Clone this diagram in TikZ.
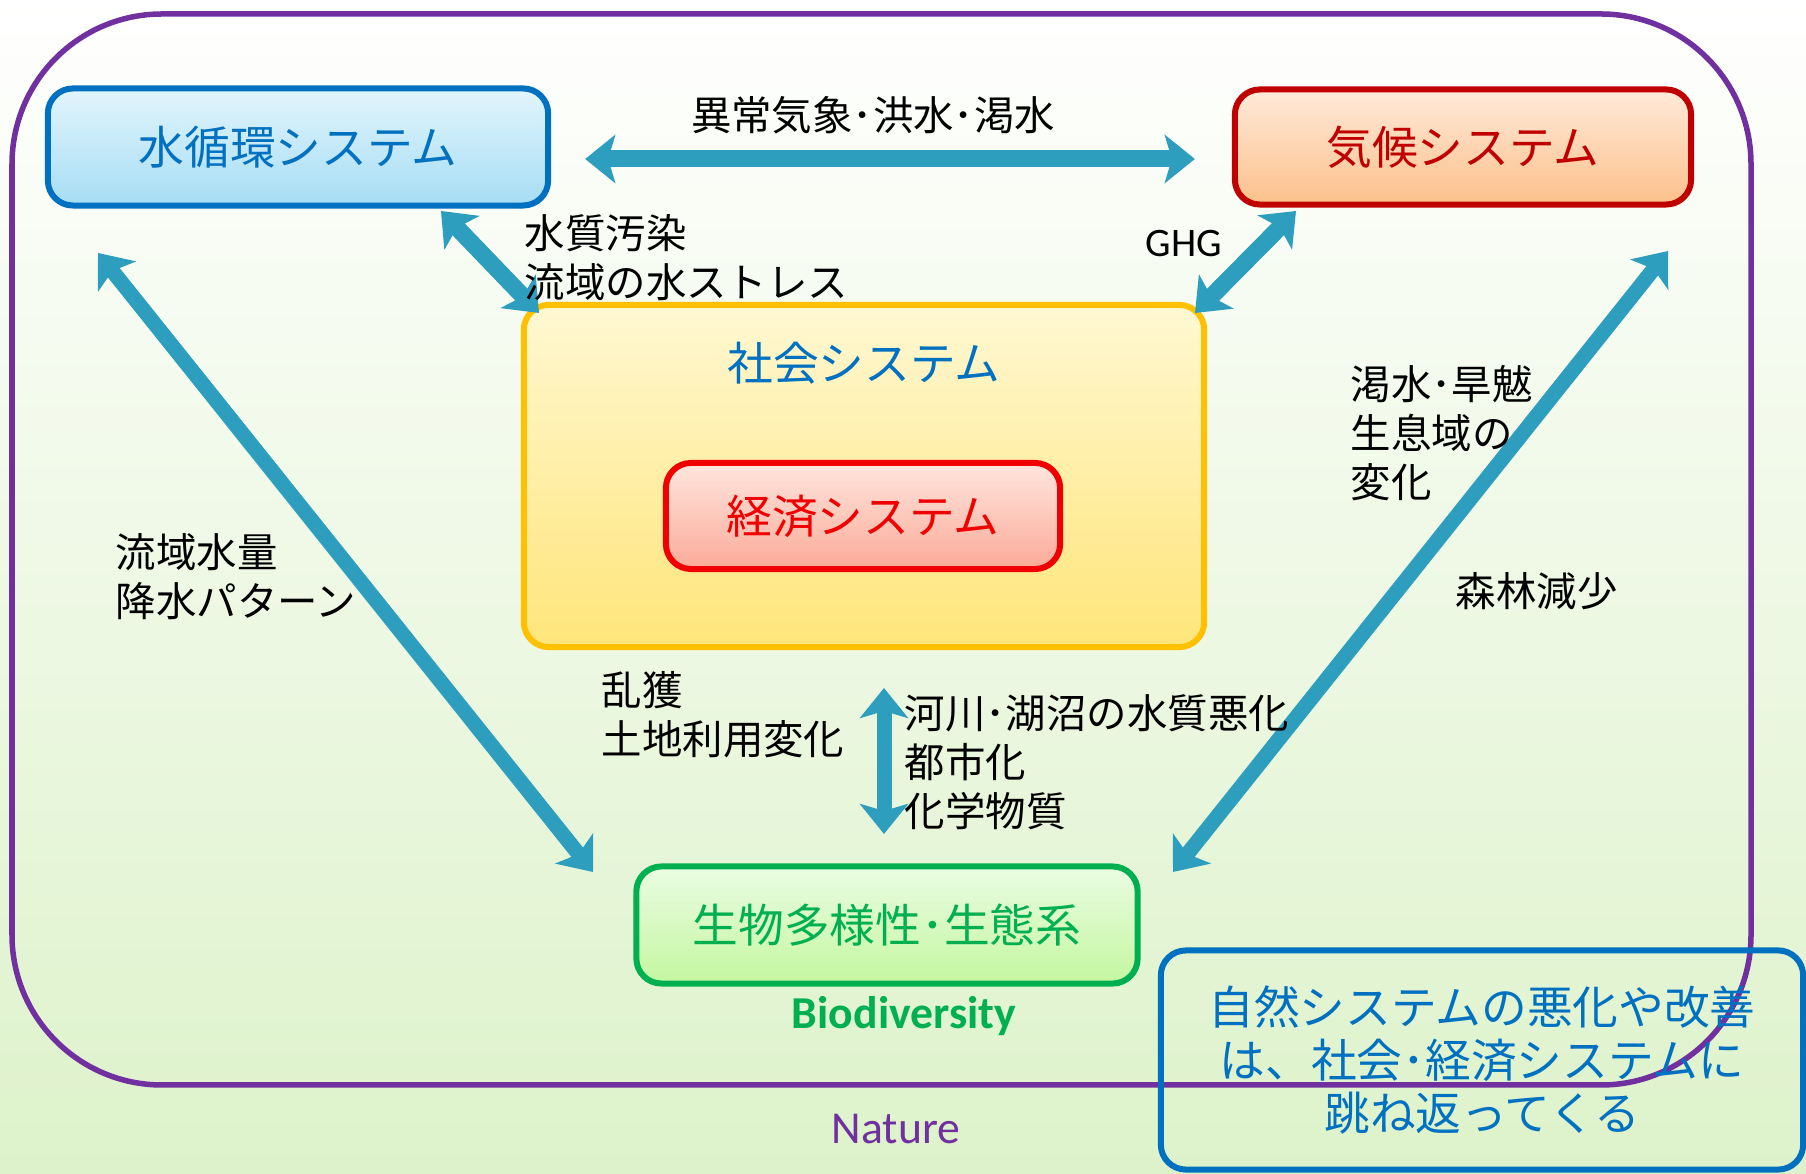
\documentclass[tikz,border=0pt]{standalone}
\usepackage{fontspec}
\setmainfont{Carlito}
\newfontfamily\jp{Noto Sans CJK JP}
\usetikzlibrary{arrows.meta}
\definecolor{p1}{HTML}{7030A0}
\definecolor{b1}{HTML}{0070C0}
\definecolor{r1}{HTML}{C00000}
\definecolor{r2}{HTML}{F00000}
\definecolor{y1}{HTML}{FFC000}
\definecolor{g1}{HTML}{00B050}
\definecolor{a1}{HTML}{2E9EBE}
\definecolor{bg}{HTML}{DDF2CA}
\definecolor{wt}{HTML}{E2F5FC}
\definecolor{wb}{HTML}{A6DDF4}
\definecolor{ct}{HTML}{FFEADA}
\definecolor{cb}{HTML}{FCC08A}
\definecolor{st}{HTML}{FFF8D2}
\definecolor{sb}{HTML}{FFE57A}
\definecolor{et}{HTML}{FFE6DE}
\definecolor{eb}{HTML}{FBAA98}
\definecolor{gt}{HTML}{EAFCE2}
\definecolor{gb}{HTML}{C4F7A0}
\tikzset{>={Stealth[length=0.3cm,width=0.48cm,inset=0.07cm]}}
\tikzstyle{sys}=[draw,rounded corners=0.25cm,line width=0.06cm,inner sep=0,
                 font=\jp\fontsize{13}{15.1}\selectfont]
\tikzstyle{flow}=[<->,a1,line width=0.17cm]
\tikzstyle{long flow}=[flow,line width=0.15cm]
\tikzstyle{lbl}=[anchor=west,inner sep=0,align=left,
                 font=\jp\fontsize{11.5}{14}\selectfont]

\begin{document}
\begin{tikzpicture}[x=0.01cm,y=-0.01cm]
  \useasboundingbox (0,0) rectangle (1806,1174);
  \shade[top color=white,middle color=white,bottom color=bg] (0,0) rectangle (1806,1174);
  \draw[p1,line width=0.055cm,rounded corners=1.5cm] (12,14) rectangle (1751,1085);
  \node[p1,font=\fontsize{13}{15}\selectfont] (nature) at (896,1129) {Nature};

  \node[sys,b1,top color=wt,bottom color=wb,minimum width=5cm,minimum height=1.17cm]
       (water) at (298,147) {水循環システム};
  \node[sys,r1,top color=ct,bottom color=cb,minimum width=4.56cm,minimum height=1.15cm]
       (climate) at (1463,147) {気候システム};
  \node[sys,y1,top color=st,bottom color=sb,minimum width=6.8cm,minimum height=3.42cm]
       (society) at (864,476) {};
  \node[b1,font=\jp\fontsize{13}{15}\selectfont] (society t) at (864,363) {社会システム};
  \node[sys,r2,top color=et,bottom color=eb,minimum width=3.94cm,minimum height=1.06cm]
       (economy) at (863,516) {経済システム};
  \node[sys,g1,top color=gt,bottom color=gb,minimum width=5.01cm,minimum height=1.17cm]
       (bio) at (887,925) {生物多様性･生態系};
  \node[g1,font=\bfseries\fontsize{13}{15}\selectfont] (bio t) at (904,1016) {Biodiversity};
  \node[sys,b1,minimum width=6.42cm,minimum height=2.19cm,align=center]
       (note) at (1482,1060) {自然システムの悪化や改善\\は、社会･経済システムに\\跳ね返ってくる};

  \coordinate (w1) at (441,211);
  \coordinate (s1) at (539,313);
  \coordinate (c1) at (1296,211);
  \coordinate (s2) at (1195,313);
  \coordinate (w2) at (98,253);
  \coordinate (g1a) at (593,872);
  \coordinate (c2) at (1668,251);
  \coordinate (g1b) at (1173,872);
  \coordinate (s3) at (884,688);
  \coordinate (g1c) at (884,834);

  \draw[flow,shorten <=0.34cm,shorten >=0.37cm]
       ([yshift=-0.12cm]water.east) -- ([yshift=-0.12cm]climate.west);
  \draw[flow] (w1) -- (s1);
  \draw[flow] (c1) -- (s2);
  \draw[long flow] (w2) -- (g1a);
  \draw[long flow] (c2) -- (g1b);
  \draw[long flow] (s3) -- (g1c);

  \node[font=\jp\fontsize{11.5}{14}\selectfont] (l1) at (873,115) {異常気象･洪水･渇水};
  \node[lbl] (l2) at (524,258) {水質汚染\\流域の水ストレス};
  \node[anchor=west,inner sep=0,font=\fontsize{11.5}{14}\selectfont] (l3) at (1145,244) {GHG};
  \node[lbl] (l4) at (115,577) {流域水量\\降水パターン};
  \node[lbl] (l5) at (1350,433) {渇水･旱魃\\生息域の\\変化};
  \node[lbl] (l6) at (1455,591) {森林減少};
  \node[lbl] (l7) at (601,715) {乱獲\\土地利用変化};
  \node[lbl] (l8) at (904,762) {河川･湖沼の水質悪化\\都市化\\化学物質};
\end{tikzpicture}
\end{document}
